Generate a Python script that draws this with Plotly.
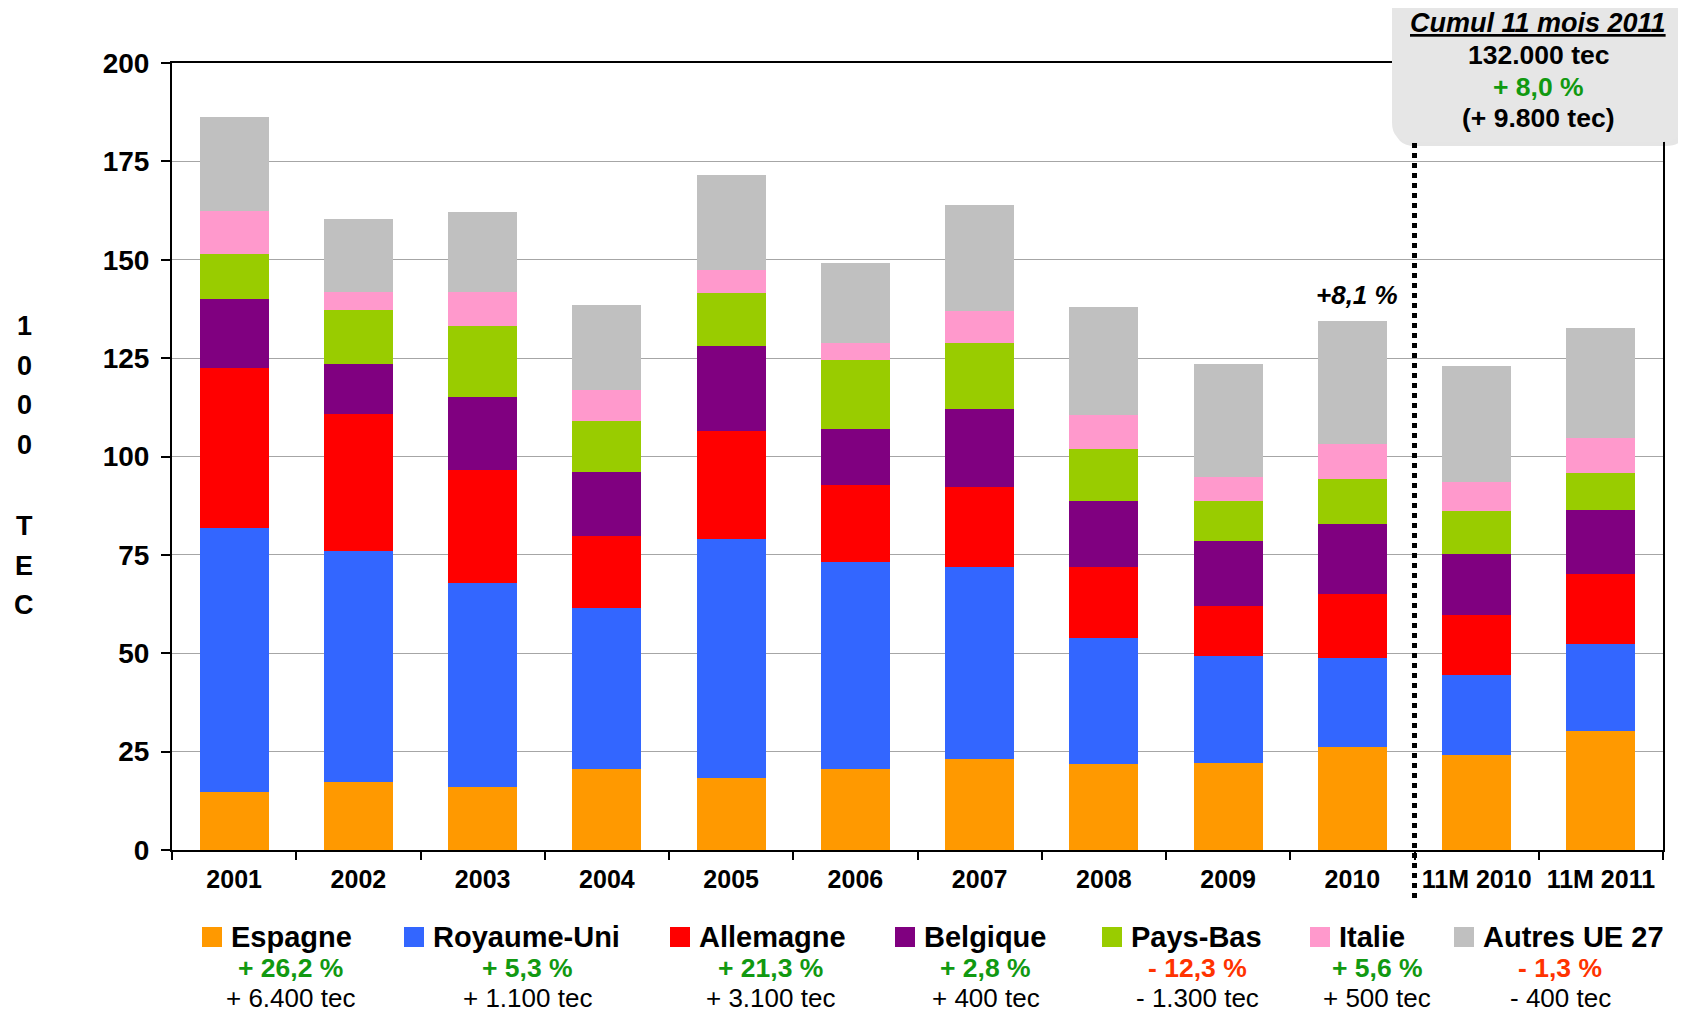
import plotly.graph_objects as go

# Données (milliers de tec)
categories = ['2001', '2002', '2003', '2004', '2005', '2006', '2007', '2008',
              '2009', '2010', '11M 2010', '11M 2011']

espagne = [14.7, 17.2, 16.1, 20.7, 18.3, 20.7, 23.2, 21.8, 22.1, 26.2, 24.2, 30.3]
royaume_uni = [67.2, 58.7, 51.8, 40.7, 60.8, 52.4, 48.6, 32.0, 27.3, 22.5, 20.4, 22.0]
allemagne = [40.6, 34.9, 28.7, 18.3, 27.3, 19.7, 20.4, 18.0, 12.5, 16.3, 15.1, 17.9]
belgique = [17.5, 12.8, 18.5, 16.3, 21.6, 14.2, 19.9, 16.9, 16.7, 17.9, 15.6, 16.3]
pays_bas = [11.4, 13.6, 18.1, 13.1, 13.6, 17.4, 16.7, 13.3, 10.1, 11.5, 10.9, 9.2]
italie = [10.9, 4.7, 8.7, 7.7, 5.7, 4.4, 8.2, 8.5, 6.0, 8.9, 7.4, 8.9]
autres = [24.1, 18.5, 20.2, 21.8, 24.3, 20.4, 27.0, 27.6, 28.9, 31.2, 29.3, 28.1]

pays = ['Espagne', 'Royaume-Uni', 'Allemagne', 'Belgique', 'Pays-Bas', 'Italie', 'Autres UE 27']
series = [espagne, royaume_uni, allemagne, belgique, pays_bas, italie, autres]
variations = ['+ 26,2 %', '+ 5,3 %', '+ 21,3 %', '+ 2,8 %', '- 12,3 %', '+ 5,6 %', '- 1,3 %']
ecarts = ['+ 6.400 tec', '+ 1.100 tec', '+ 3.100 tec', '+ 400 tec', '- 1.300 tec', '+ 500 tec', '- 400 tec']
titre_axe = ['1', '0', '0', '0', 'T', 'E', 'C']

COULEURS = ['#FF9900', '#3366FF', '#FF0000', '#800080', '#99CC00', '#FF99CC', '#C0C0C0']
VERT = '#119911'
ROUGE = '#FF3300'
FONT = 'Liberation Sans, Arial, sans-serif'

# la page html ajoute une marge de 8 px : coordonnées "page" -> figure
OFF = 8
FIG_W, FIG_H = 1686 - 2 * OFF, 1017 - 2 * OFF
# zone de tracé (coordonnées page) : x 172..1663, y 63..850
L, T = 172 - OFF, 63 - OFF
R = FIG_W - (1663 - OFF)
B = FIG_H - (850 - OFF)
W = FIG_W - L - R
H = FIG_H - T - B


def px_x(px):
    return (px - OFF - L) / W


def px_y(py):
    return (850 - py) / H


fig = go.Figure()
for nom, vals, coul in zip(pays, series, COULEURS):
    fig.add_trace(go.Bar(x=categories, y=vals, name=nom, marker=dict(color=coul, line=dict(width=0))))

fig.update_layout(
    barmode='stack',
    bargap=0.445,
    showlegend=False,
    width=FIG_W,
    height=FIG_H,
    margin=dict(l=L, r=R, t=T, b=B),
    plot_bgcolor='white',
    paper_bgcolor='white',
    font=dict(family=FONT, color='black'),
)

fig.update_yaxes(
    range=[0, 200], tickvals=[0, 25, 50, 75, 100, 125, 150, 175, 200],
    showgrid=True, gridcolor='#A6A6A6', gridwidth=1,
    showline=True, linecolor='black', linewidth=2, mirror=True,
    ticks='outside', ticklen=9, tickwidth=2, tickcolor='black',
    tickfont=dict(size=28, family=FONT, weight='bold'),
    ticklabelstandoff=6, zeroline=False,
)
fig.update_xaxes(
    type='category', categoryorder='array', categoryarray=categories,
    range=[-0.5, len(categories) - 0.5], autorange=False,
    showline=True, linecolor='black', linewidth=2, mirror=True,
    ticks='outside', tickson='boundaries', ticklen=8, tickwidth=2, tickcolor='black',
    tickfont=dict(size=25, family=FONT, weight='bold'), tickangle=0,
    ticklabelstandoff=6,
)

# titre d'axe vertical, lettres empilées
lettres_y = [326, 366, 405, 445, 526, 566, 605]
for lettre, py in zip(titre_axe, lettres_y):
    fig.add_annotation(text=f'<b>{lettre}</b>', xref='paper', yref='paper',
                       x=px_x(24), y=px_y(py), showarrow=False, xanchor='center', yanchor='middle',
                       font=dict(size=27, family=FONT))

# ligne pointillée séparant les années et les cumuls
i_sep = categories.index('2010') + 0.5
fig.add_shape(type='line', xref='x', yref='paper', x0=i_sep, x1=i_sep,
              y0=px_y(898), y1=px_y(140), line=dict(color='black', width=5, dash='dot'))

# +8,1 % au-dessus de 2010
fig.add_annotation(text='<b><i>+8,1 %</i></b>', x=categories.index('2010'), y=141, xref='x', yref='y',
                   showarrow=False, xshift=5, font=dict(size=26, family=FONT))

# encadré cumul
x0b, x1b, y0b, y1b, r = 1392, 1683, -10, 142, 20


def rounded_path(x0, x1, y0, y1, r):
    s = f'M {px_x(x0):.5f},{px_y(y0):.5f} L {px_x(x1):.5f},{px_y(y0):.5f} L {px_x(x1):.5f},{px_y(y1 - r):.5f} '
    s += f'Q {px_x(x1):.5f},{px_y(y1):.5f} {px_x(x1 - r):.5f},{px_y(y1):.5f} '
    s += f'L {px_x(x0 + r):.5f},{px_y(y1):.5f} '
    s += f'Q {px_x(x0):.5f},{px_y(y1):.5f} {px_x(x0):.5f},{px_y(y1 - r):.5f} Z'
    return s


fig.add_shape(type='path', xref='paper', yref='paper', layer='above',
              path=rounded_path(x0b + 3, x1b + 3, y0b, y1b + 4, r),
              fillcolor='rgba(0,0,0,0.10)', line=dict(width=0))
fig.add_shape(type='path', xref='paper', yref='paper', layer='above',
              path=rounded_path(x0b, x1b, y0b, y1b, r),
              fillcolor='#E6E6E6', line=dict(width=0))

box_lines = [
    ('<b><i><u>Cumul 11 mois 2011</u></i></b>', 23, 'black', 27),
    ('<b>132.000 tec</b>', 55, 'black', 26.5),
    ('<b>+ 8,0 %</b>', 87, VERT, 26.5),
    ('<b>(+ 9.800 tec)</b>', 118, 'black', 26.5),
]
for txt, py, coul, taille in box_lines:
    fig.add_annotation(text=txt, xref='paper', yref='paper', x=px_x(1538), y=px_y(py),
                       showarrow=False, xanchor='center', yanchor='middle',
                       font=dict(size=taille, family=FONT, color=coul))

# légende personnalisée
swatch_left = [202, 404, 670, 895, 1102, 1310, 1454]
centre_var = [290, 527, 770, 986, 1197, 1377, 1560]
for i, nom in enumerate(pays):
    sl = swatch_left[i]
    fig.add_shape(type='rect', xref='paper', yref='paper',
                  x0=px_x(sl), x1=px_x(sl + 20), y0=px_y(947), y1=px_y(927),
                  fillcolor=COULEURS[i], line=dict(width=0))
    fig.add_annotation(text=f'<b>{nom}</b>', xref='paper', yref='paper', x=px_x(sl + 27), y=px_y(937),
                       showarrow=False, xanchor='left', yanchor='middle',
                       font=dict(size=29, family=FONT))
    coul = VERT if variations[i].startswith('+') else ROUGE
    fig.add_annotation(text=f'<b>{variations[i]}</b>', xref='paper', yref='paper',
                       x=px_x(centre_var[i]), y=px_y(968), showarrow=False,
                       xanchor='center', yanchor='middle', font=dict(size=26.5, family=FONT, color=coul))
    fig.add_annotation(text=ecarts[i], xref='paper', yref='paper',
                       x=px_x(centre_var[i]), y=px_y(998), showarrow=False,
                       xanchor='center', yanchor='middle', font=dict(size=26, family=FONT))

fig.write_html('out.html')
